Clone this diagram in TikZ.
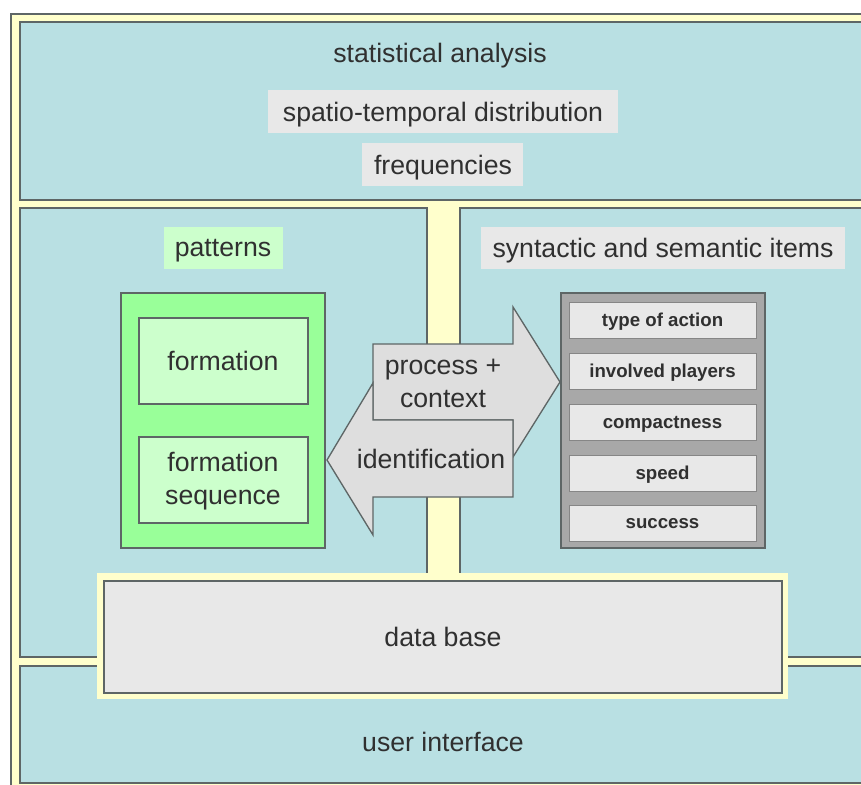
\documentclass[tikz,border=0pt]{standalone}
\usepackage{fontspec}
\setmainfont{Liberation Sans}
\usetikzlibrary{fit}

\definecolor{panelblue}{HTML}{B9E0E3}
\definecolor{frameyellow}{HTML}{FFFFCC}
\definecolor{edgegrey}{HTML}{5E6666}
\definecolor{labelgrey}{HTML}{E8E8E8}
\definecolor{arrowgrey}{HTML}{DEDEDE}
\definecolor{itemframe}{HTML}{A8A8A8}
\definecolor{palegreen}{HTML}{CCFFCC}
\definecolor{brightgreen}{HTML}{99FF99}
\definecolor{inkgrey}{HTML}{303030}

\tikzset{
  box/.style={inner sep=0pt, outer sep=0pt, draw=edgegrey, line width=1pt},
  panel/.style={box, fill=panelblue},
  plainlabel/.style={inner sep=0pt, outer sep=0pt, fill=labelgrey},
  greenlabel/.style={inner sep=0pt, outer sep=0pt, fill=palegreen},
  txt/.style={text=inkgrey, font=\fontsize{20}{24.75}\selectfont, align=center, inner sep=0pt},
  oneline/.style={txt, text depth=0pt},
  itemtxt/.style={text=inkgrey, font=\fontsize{14}{17}\selectfont\bfseries, inner sep=0pt, text depth=0pt},
  itembox/.style={inner sep=0pt, outer sep=0pt, fill=labelgrey, draw=itemframe!80!black, line width=0.4pt},
  bigarrow/.style={fill=arrowgrey, draw=edgegrey, line width=1pt, line join=miter},
}

\begin{document}
\begin{tikzpicture}[x=0.75pt, y=-0.75pt]
\useasboundingbox (0,0) rectangle (861,785);
\begin{scope}
\clip (0,0) rectangle (861,785);

% outer yellow frame
\node[box, fill=frameyellow, line width=1.3pt, fit={(11,14)(880,800)}] (frame) {};

% the four panels
\node[panel, fit={(20,22)(880,200)}] (stat) {};
\node[panel, fit={(20,208)(427,657)}] (patpanel) {};
\node[panel, fit={(460,208)(880,657)}] (itempanel) {};
\node[panel, fit={(20,666)(880,783)}] (ui) {};

% statistical analysis
\node[oneline] (stattitle) at (440,53) {statistical analysis};
\node[plainlabel, fit={(268,90)(618,133)}] (spatiobox) {};
\node[oneline] (spatio) at (443,112) {spatio-temporal distribution};
\node[plainlabel, fit={(362,143)(523,186)}] (freqbox) {};
\node[oneline] (freq) at (443,165) {frequencies};

% patterns
\node[greenlabel, fit={(164,227)(283,269)}] (patbox) {};
\node[oneline] (pat) at (223,248) {patterns};
\node[box, fill=brightgreen, fit={(121,293)(325,548)}] (green) {};
\node[box, fill=palegreen, fit={(139,318)(308,404)}] (formbox) {};
\node[oneline] (form) at (223,361) {formation};
\node[box, fill=palegreen, fit={(139,437)(308,523)}] (seqbox) {};
\node[txt] (seq) at (223,481) {formation\\sequence};

% syntactic and semantic items
\node[plainlabel, fit={(481,227)(845,269)}] (synbox) {};
\node[oneline] (syn) at (663,248) {syntactic and semantic items};
\node[box, fill=itemframe, line width=1.2pt, fit={(561,293)(765,548)}] (items) {};
\node[itembox, fit={(569,302)(756,338)}] (i1) {};
\node[itemtxt] at (i1.center) {type of action};
\node[itembox, fit={(569,353)(756,389)}] (i2) {};
\node[itemtxt] at (i2.center) {involved players};
\node[itembox, fit={(569,404)(756,440)}] (i3) {};
\node[itemtxt] at (i3.center) {compactness};
\node[itembox, fit={(569,455)(756,491)}] (i4) {};
\node[itemtxt] at (i4.center) {speed};
\node[itembox, fit={(569,505)(756,541)}] (i5) {};
\node[itemtxt] at (i5.center) {success};

% block arrows between patterns and items
\draw[bigarrow] (373,344) -- (513,344) -- (513,307) -- (560,382) -- (513,457)
  -- (513,420) -- (373,420) -- cycle;
\draw[bigarrow] (513,420) -- (373,420) -- (373,383) -- (327,460) -- (373,535)
  -- (373,497) -- (513,497) -- cycle;
\node[txt] (proc) at (443,383) {process +\\context};
\node[oneline] (ident) at (431,459) {identification};

% data base
\node[inner sep=0pt, fill=frameyellow, fit={(97,573)(788,699)}] (dbhalo) {};
\node[box, fill=labelgrey, fit={(104,581)(782,693)}] (db) {};
\node[oneline] (dbtxt) at (db.center) {data base};

% user interface
\node[oneline] (uitxt) at (443,742) {user interface};
\end{scope}
\end{tikzpicture}
\end{document}
